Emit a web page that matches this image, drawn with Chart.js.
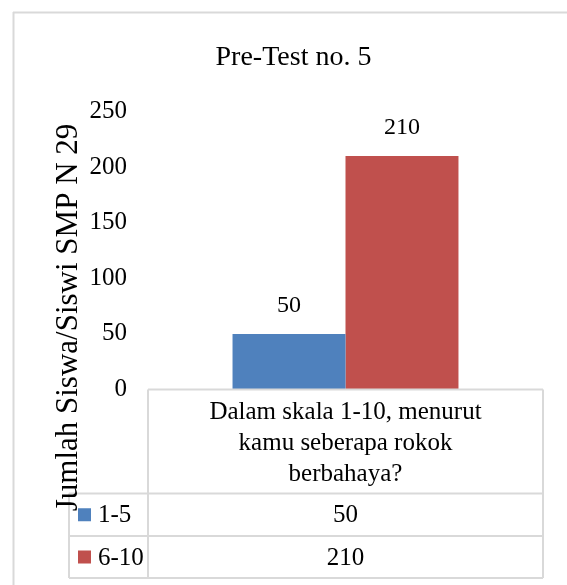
<!DOCTYPE html>
<html>
<head>
<meta charset="utf-8">
<script src="https://cdn.jsdelivr.net/npm/chart.js@4"></script>
<style>
  html, body { margin: 0; padding: 0; background: #fff; }
  #wrap { width: 567px; height: 585px; position: relative; }
</style>
</head>
<body>
<div id="wrap"><canvas id="c" width="567" height="585"></canvas></div>
<script>
const chartTitle = 'Pre-Test no. 5';
const yAxisTitle = 'Jumlah Siswa/Siswi SMP N 29';
const categories = [['Dalam skala 1-10, menurut', 'kamu seberapa rokok', 'berbahaya?']];
const seriesNames = ['1-5', '6-10'];
const series1to5 = [50];
const series6to10 = [210];
const seriesColors = ['#4F81BD', '#C0504D'];
const yMin = 0, yMax = 250, yStep = 50;

const FONT = '"Liberation Serif", "Times New Roman", serif';
const GRID = '#d9d9d9';

const extras = {
  id: 'extras',
  afterDraw(chart) {
    const ctx = chart.ctx;
    const area = chart.chartArea;
    const xs = chart.scales.x;
    ctx.save();

    // outer frame (partial, as in reference)
    ctx.strokeStyle = GRID;
    ctx.lineWidth = 2;
    ctx.beginPath();
    ctx.moveTo(13, 12.5); ctx.lineTo(567, 12.5);
    ctx.moveTo(13.5, 12); ctx.lineTo(13.5, 585);
    ctx.stroke();

    // title
    ctx.fillStyle = '#000';
    ctx.font = '28px ' + FONT;
    ctx.textAlign = 'center';
    ctx.textBaseline = 'alphabetic';
    ctx.fillText(chartTitle, 293.5, 65);

    // data labels
    ctx.font = '24px ' + FONT;
    ctx.textBaseline = 'middle';
    chart.data.datasets.forEach((ds, di) => {
      chart.getDatasetMeta(di).data.forEach((bar, i) => {
        ctx.fillText(String(ds.data[i]), bar.x, bar.y - 28);
      });
    });

    // data table
    const L = area.left, R = area.right, T = area.bottom;
    const legendLeft = 69;
    const hdrBottom = T + 104;
    const row1Bottom = hdrBottom + 42.5;
    const row2Bottom = row1Bottom + 42;
    ctx.strokeStyle = GRID;
    ctx.lineWidth = 2;
    ctx.beginPath();
    ctx.moveTo(L, T); ctx.lineTo(R, T);
    ctx.moveTo(legendLeft, hdrBottom); ctx.lineTo(R, hdrBottom);
    ctx.moveTo(legendLeft, row1Bottom); ctx.lineTo(R, row1Bottom);
    ctx.moveTo(legendLeft, row2Bottom); ctx.lineTo(R, row2Bottom);
    ctx.moveTo(L, T); ctx.lineTo(L, row2Bottom);
    ctx.moveTo(R, T); ctx.lineTo(R, row2Bottom);
    ctx.moveTo(legendLeft, hdrBottom); ctx.lineTo(legendLeft, row2Bottom);
    ctx.stroke();

    ctx.fillStyle = '#000';
    ctx.font = '25px ' + FONT;
    ctx.textAlign = 'center';
    ctx.textBaseline = 'alphabetic';
    chart.data.labels.forEach((lab, i) => {
      const cx = xs.getPixelForValue(i);
      const lines = Array.isArray(lab) ? lab : [lab];
      lines.forEach((ln, k) => ctx.fillText(ln, cx, T + 29 + k * 31));
      // values
      ctx.textBaseline = 'middle';
      chart.data.datasets.forEach((ds, di) => {
        const top = di === 0 ? hdrBottom : row1Bottom;
        const bot = di === 0 ? row1Bottom : row2Bottom;
        ctx.fillText(String(ds.data[i]), cx, (top + bot) / 2 + 1);
      });
      ctx.textBaseline = 'alphabetic';
    });

    // legend keys in table
    ctx.textAlign = 'left';
    ctx.textBaseline = 'middle';
    chart.data.datasets.forEach((ds, di) => {
      const top = di === 0 ? hdrBottom : row1Bottom;
      const bot = di === 0 ? row1Bottom : row2Bottom;
      const cy = (top + bot) / 2;
      ctx.fillStyle = ds.backgroundColor;
      ctx.fillRect(78, cy - 6.5, 13, 13);
      ctx.fillStyle = '#000';
      ctx.fillText(ds.label, 98, cy + 1);
    });

    // y-axis title (rotated)
    ctx.save();
    ctx.translate(77, 317.5);
    ctx.rotate(-Math.PI / 2);
    ctx.font = '31px ' + FONT;
    ctx.textAlign = 'center';
    ctx.textBaseline = 'alphabetic';
    ctx.fillStyle = '#000';
    ctx.fillText(yAxisTitle, 0, 0);
    ctx.restore();

    ctx.restore();
  }
};

new Chart(document.getElementById('c'), {
  type: 'bar',
  data: {
    labels: categories,
    datasets: [
      { label: seriesNames[0], data: series1to5, backgroundColor: seriesColors[0] },
      { label: seriesNames[1], data: series6to10, backgroundColor: seriesColors[1] }
    ]
  },
  options: {
    responsive: false,
    animation: false,
    devicePixelRatio: 1,
    layout: { padding: { left: 0, right: 24, top: 111.5, bottom: 195.5 } },
    datasets: { bar: { categoryPercentage: 0.572, barPercentage: 1.0 } },
    plugins: {
      legend: { display: false },
      title: { display: false },
      tooltip: { enabled: false }
    },
    scales: {
      x: { display: false },
      y: {
        min: yMin, max: yMax,
        ticks: { stepSize: yStep, color: '#000', padding: 21, font: { family: FONT, size: 25 } },
        grid: { display: false, drawTicks: false },
        border: { display: false },
        afterFit(scale) { scale.width = 148; }
      }
    }
  },
  plugins: [extras]
});
</script>
</body>
</html>
